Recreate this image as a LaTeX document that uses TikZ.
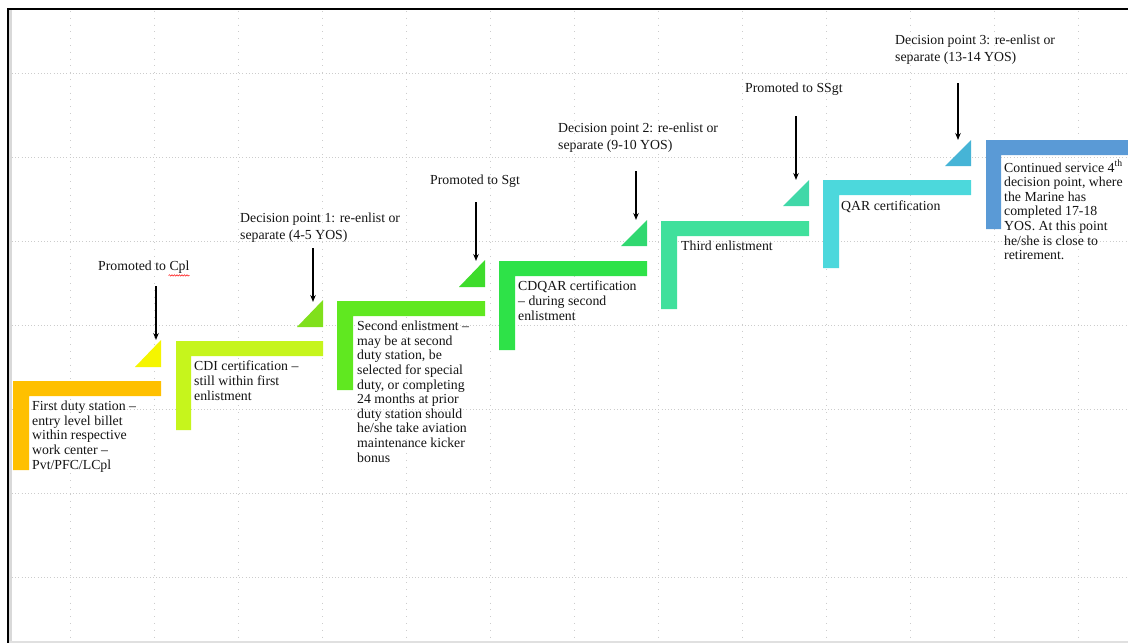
\documentclass[tikz,border=0pt]{standalone}
\usepackage{fontspec}
\setmainfont{Liberation Serif}
\usetikzlibrary{arrows.meta,decorations.pathmorphing}
\definecolor{cOrange}{RGB}{255,192,0}
\definecolor{cTriA}{RGB}{245,245,0}
\definecolor{cStepB}{RGB}{198,245,28}
\definecolor{cTriB}{RGB}{128,224,28}
\definecolor{cStepC}{RGB}{96,232,32}
\definecolor{cTriC}{RGB}{62,220,44}
\definecolor{cStepD}{RGB}{46,226,72}
\definecolor{cTriD}{RGB}{48,216,112}
\definecolor{cStepE}{RGB}{64,224,156}
\definecolor{cTriE}{RGB}{64,216,168}
\definecolor{cStepF}{RGB}{76,216,220}
\definecolor{cTriF}{RGB}{70,180,214}
\definecolor{cStepG}{RGB}{90,154,214}
\begin{document}
\begin{tikzpicture}[x=1pt,y=-1pt,
  gridh/.style={black!20, line width=0.6pt, dash pattern=on 0.8pt off 2.4pt},
  gridv/.style={black!20, line width=0.6pt, dash pattern=on 0.8pt off 6pt},
  lbl/.style={anchor=north west, inner sep=0pt, align=left, text=black!92,
    font=\fontsize{13.8}{17}\selectfont},
  body/.style={anchor=north west, inner sep=0pt, align=left, text=black!92,
    font=\fontsize{13.8}{14.6}\selectfont},
  arr/.style={-{Stealth[length=7pt,width=5.5pt]}, line width=1.2pt, black},
]
\useasboundingbox (0,0) rectangle (1128,643);
\fill[white] (0,0) rectangle (1128,643);
% grid
\foreach \gx in {70,154,...,1078} \draw[gridv] (\gx,11) -- (\gx,640);
\foreach \gy in {73,157,...,577} \draw[gridh] (12,\gy) -- (1128,\gy);
% frame
\fill[black!15] (9,10) rectangle (12,643);
\fill[black!12] (9,640.5) rectangle (1128,643);
\draw[line width=2pt, black] (8,643) -- (8,9) -- (1128,9);

% steps (L shapes)
\fill[cOrange] (13,381) -- (161,381) -- (161,396) -- (29,396) -- (29,470) -- (13,470) -- cycle;
\fill[cStepB] (176,341) -- (323,341) -- (323,356) -- (191,356) -- (191,430) -- (176,430) -- cycle;
\fill[cStepC] (337,301) -- (485,301) -- (485,316) -- (353,316) -- (353,390) -- (337,390) -- cycle;
\fill[cStepD] (499,261) -- (647,261) -- (647,276) -- (515,276) -- (515,350) -- (499,350) -- cycle;
\fill[cStepE] (661,221) -- (809,221) -- (809,236) -- (677,236) -- (677,309) -- (661,309) -- cycle;
\fill[cStepF] (823,180) -- (971,180) -- (971,195) -- (839,195) -- (839,268) -- (823,268) -- cycle;
\fill[cStepG] (986,140) -- (1128,140) -- (1128,155) -- (1001,155) -- (1001,229) -- (986,229) -- cycle;

% triangles
\fill[cTriA] (135,367) -- (161,340) -- (161,367) -- cycle;
\fill[cTriB] (297,327) -- (323,300) -- (323,327) -- cycle;
\fill[cTriC] (459,287) -- (485,260) -- (485,287) -- cycle;
\fill[cTriD] (621,246) -- (647,220) -- (647,246) -- cycle;
\fill[cTriE] (783,206) -- (809,180) -- (809,206) -- cycle;
\fill[cTriF] (945,166) -- (971,140) -- (971,166) -- cycle;

% body texts
\node[body] (t1) at (32,401) {First duty station --\\entry level billet\\within respective\\work center --\\Pvt/PFC/LCpl};
\node[body] (t2) at (194,361) {CDI certification --\\still within first\\enlistment};
\node[body] (t3) at (357,321) {Second enlistment --\\may be at second\\duty station, be\\selected for special\\duty, or completing\\24 months at prior\\duty station should\\he/she take aviation\\maintenance kicker\\bonus};
\node[body] (t4) at (518,281) {CDQAR certification\\-- during second\\enlistment};
\node[body] (t5) at (681,241) {Third enlistment};
\node[body] (t6) at (841,201) {QAR certification};
\node[body] (t7) at (1004,160) {Continued service 4\textsuperscript{th}\\decision point, where\\the Marine has\\completed 17-18\\YOS. At this point\\he/she is close to\\retirement.};

% labels
\node[lbl] (l1) at (98,261) {Promoted to Cpl};
\node[lbl] (l2) at (240,213) {Decision point 1: re-enlist or\\separate (4-5 YOS)};
\node[lbl] (l3) at (430,175) {Promoted to Sgt};
\node[lbl] (l4) at (558,123) {Decision point 2: re-enlist or\\separate (9-10 YOS)};
\node[lbl] (l5) at (745,83) {Promoted to SSgt};
\node[lbl] (l6) at (895,35) {Decision point 3: re-enlist or\\separate (13-14 YOS)};
\draw[red, line width=0.5pt, decorate, decoration={snake, amplitude=0.7pt, segment length=2.5pt}] ([xshift=-21pt,yshift=-1.5pt]l1.south east) -- ([yshift=-1.5pt]l1.south east);

% arrows
\coordinate (a1s) at (156,286); \coordinate (a1e) at (156,340);
\coordinate (a2s) at (313,248); \coordinate (a2e) at (313,302);
\coordinate (a3s) at (476,202); \coordinate (a3e) at (476,261);
\coordinate (a4s) at (636,171); \coordinate (a4e) at (636,220);
\coordinate (a5s) at (796,116); \coordinate (a5e) at (796,180);
\coordinate (a6s) at (958,83);  \coordinate (a6e) at (958,140);
\foreach \i in {1,...,6} \draw[arr] (a\i s) -- (a\i e);
\end{tikzpicture}
\end{document}
